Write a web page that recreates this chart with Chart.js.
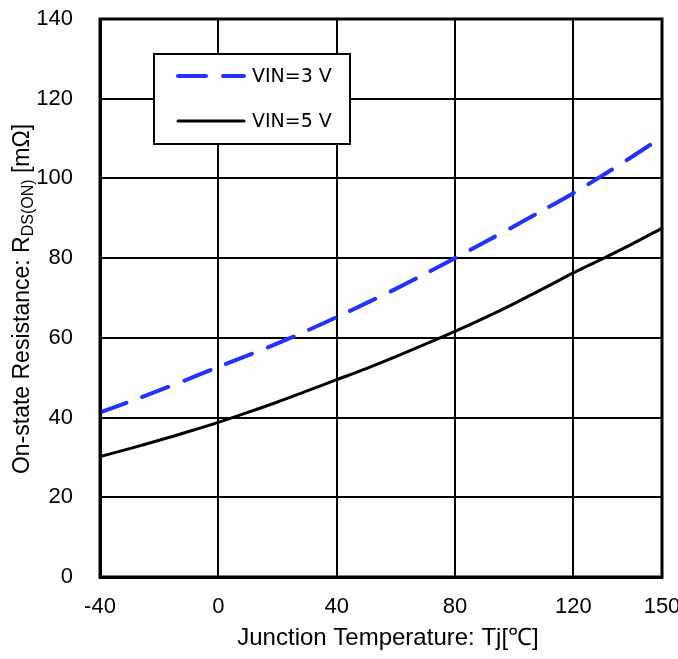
<!DOCTYPE html>
<html>
<head>
<meta charset="utf-8">
<script src="https://cdn.jsdelivr.net/npm/chart.js@4/dist/chart.umd.min.js"></script>
<style>
  html, body { margin: 0; padding: 0; background: #fff; }
  #chart { display: block; }
</style>
</head>
<body>
<canvas id="chart" width="678" height="659"></canvas>
<script>
// Datos
const temps = [-40, -30, -20, -10, 0, 10, 20, 30, 40, 50, 60, 70, 80, 90, 100, 110, 120, 130, 140, 150];
const vin3 = [41.3, 44.0, 46.8, 49.7, 52.7, 55.6, 58.6, 61.8, 65.2, 68.7, 72.3, 76.1, 80.0, 84.0, 88.0, 92.1, 96.3, 100.8, 105.5, 110.4];
const vin5 = [30.2, 32.2, 34.3, 36.5, 38.8, 41.3, 43.9, 46.7, 49.5, 52.3, 55.3, 58.4, 61.6, 65.0, 68.6, 72.4, 76.3, 79.9, 83.6, 87.5];
const xTicks = [-40, 0, 40, 80, 120, 150];
const seriesNames = ['VIN=3 V', 'VIN=5 V'];

const BLUE = '#2233ff';
Chart.defaults.font.family = 'Liberation Sans';
Chart.defaults.font.size = 22;
Chart.defaults.color = '#000';
const tickFont = { family: 'Liberation Sans', size: 22 };

// Marco, titulos y leyenda dibujados a mano
const extrasPlugin = {
    id: 'extras',
    afterDraw(chart) {
        const ctx = chart.ctx;
        const a = chart.chartArea;

        // marco del area
        ctx.save();
        ctx.strokeStyle = '#000';
        ctx.lineWidth = 3;
        ctx.strokeRect(a.left, a.top, a.right - a.left, a.bottom - a.top);
        ctx.restore();

        // titulo eje X
        ctx.save();
        ctx.fillStyle = '#000';
        ctx.font = "24px 'Liberation Sans', Arial, sans-serif";
        ctx.textAlign = 'center';
        ctx.textBaseline = 'middle';
        ctx.fillText('Junction Temperature: Tj[\u2103]', 388, 638);
        ctx.restore();

        // titulo eje Y con subindice
        ctx.save();
        ctx.translate(23, 299);
        ctx.rotate(-Math.PI / 2);
        ctx.fillStyle = '#000';
        ctx.textBaseline = 'middle';
        ctx.textAlign = 'left';
        const big = "23px 'Liberation Sans', Arial, sans-serif";
        const small = "16px 'Liberation Sans', Arial, sans-serif";
        const parts = [
            { t: 'On-state Resistance: R', f: big, dy: 0 },
            { t: 'DS(ON)', f: small, dy: 6 },
            { t: ' [m\u03A9]', f: big, dy: 0 }
        ];
        let total = 0;
        parts.forEach(p => { ctx.font = p.f; p.w = ctx.measureText(p.t).width; total += p.w; });
        let x = -total / 2;
        parts.forEach(p => { ctx.font = p.f; ctx.fillText(p.t, x, p.dy); x += p.w; });
        ctx.restore();

        // leyenda
        ctx.save();
        ctx.fillStyle = '#fff';
        ctx.fillRect(154, 54, 196, 90);
        ctx.strokeStyle = '#000';
        ctx.lineWidth = 2;
        ctx.strokeRect(154, 54, 196, 90);
        const rows = [76, 121];
        chart.data.datasets.forEach((ds, i) => {
            ctx.beginPath();
            ctx.strokeStyle = ds.borderColor;
            ctx.lineWidth = ds.borderWidth;
            ctx.lineCap = 'round';
            ctx.setLineDash(ds.borderDash || []);
            ctx.moveTo(178, rows[i]);
            ctx.lineTo(244, rows[i]);
            ctx.stroke();
            ctx.setLineDash([]);
            ctx.fillStyle = '#000';
            ctx.font = "19px 'DejaVu Sans', sans-serif";
            ctx.textBaseline = 'middle';
            ctx.fillText(ds.label, 252, rows[i] + 1);
        });
        ctx.restore();
    }
};

new Chart(document.getElementById('chart'), {
    type: 'line',
    data: {
        labels: temps,
        datasets: [
            {
                label: seriesNames[0],
                data: temps.map((t, i) => ({ x: t, y: vin3[i] })),
                borderColor: BLUE,
                borderWidth: 4,
                borderDash: [28, 17],
                borderCapStyle: 'round',
                pointRadius: 0,
                tension: 0.3,
                fill: false
            },
            {
                label: seriesNames[1],
                data: temps.map((t, i) => ({ x: t, y: vin5[i] })),
                borderColor: '#000',
                borderWidth: 3,
                pointRadius: 0,
                tension: 0.3,
                fill: false
            }
        ]
    },
    options: {
        responsive: false,
        animation: false,
        layout: { padding: { left: 0, right: 16, top: 19, bottom: 0 } },
        plugins: {
            legend: { display: false },
            tooltip: { enabled: false }
        },
        scales: {
            x: {
                type: 'linear',
                min: -40,
                max: 150,
                afterBuildTicks: scale => { scale.ticks = xTicks.map(v => ({ value: v })); },
                afterFit: scale => {
                    scale.height = 82;
                    scale.paddingLeft = 0;
                    scale.paddingRight = 0;
                },
                ticks: { color: '#000', font: tickFont, padding: 17, maxRotation: 0, autoSkip: false },
                grid: { color: '#000', lineWidth: 2, drawTicks: false },
                border: { color: '#000', width: 3 }
            },
            y: {
                min: 0,
                max: 140,
                afterFit: scale => {
                    scale.width = 100;
                    scale.paddingTop = 0;
                    scale.paddingBottom = 0;
                },
                ticks: { stepSize: 20, color: '#000', font: tickFont, padding: 27 },
                grid: { color: '#000', lineWidth: 2, drawTicks: false },
                border: { color: '#000', width: 3 }
            }
        }
    },
    plugins: [extrasPlugin]
});
</script>
</body>
</html>
